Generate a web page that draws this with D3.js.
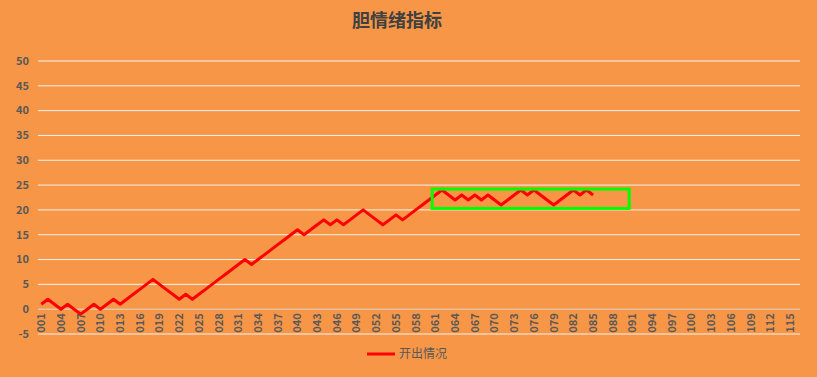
<!DOCTYPE html>
<html>
<head>
<meta charset="utf-8">
<script src="https://cdn.jsdelivr.net/npm/d3@7"></script>
<style>
  body { margin: 0; background: #F79646; }
  svg { display: block; }
  text { font-family: "Noto Sans CJK SC", "Open Sans", sans-serif; }
</style>
</head>
<body>
<svg></svg>
<script>
// category labels 001..116
var categories = d3.range(1, 117).map(d => String(d).padStart(3, '0'));
// 开出情况 series, 001..085
var values = [
  1, 2, 1, 0, 1, 0, -1, 0, 1, 0,
  1, 2, 1, 2, 3, 4, 5, 6, 5, 4,
  3, 2, 3, 2, 3, 4, 5, 6, 7, 8,
  9, 10, 9, 10, 11, 12, 13, 14, 15, 16,
  15, 16, 17, 18, 17, 18, 17, 18, 19, 20,
  19, 18, 17, 18, 19, 18, 19, 20, 21, 22,
  23, 24, 23, 22, 23, 22, 23, 22, 23, 22,
  21, 22, 23, 24, 23, 24, 23, 22, 21, 22,
  23, 24, 23, 24, 23
];
var yTicks = [-5, 0, 5, 10, 15, 20, 25, 30, 35, 40, 45, 50];
var seriesName = '开出情况';
var chartTitle = '胆情绪指标';
// highlighted box: category span and value span
var boxCats = ['061', '090'];
var boxVals = [20.3, 24.2];

var W = 817, H = 377;
var margins = {top: 61, bottom: 43, left: 38, right: 17};

var svg = d3.select('svg').attr('width', W).attr('height', H);

var xScale = d3.scaleBand().domain(categories).range([margins.left, W - margins.right]);
var yScale = d3.scaleLinear().domain([-5, 50]).range([H - margins.bottom, margins.top]);
var bw = xScale.bandwidth();

svg.append('text')
  .attr('x', 397)
  .attr('y', 27)
  .attr('text-anchor', 'middle')
  .style('font-size', '18px')
  .style('font-weight', 'bold')
  .style('fill', '#404040')
  .text(chartTitle);

// grid lines
svg.append('g')
  .selectAll('line')
  .data(yTicks)
  .enter()
  .append('line')
  .attr('x1', margins.left)
  .attr('x2', W - margins.right)
  .attr('y1', d => yScale(d))
  .attr('y2', d => yScale(d))
  .style('stroke', d => d === 0 ? '#D9D9D9' : '#F2F2F2')
  .style('stroke-width', '1px');

// y labels
svg.append('g')
  .selectAll('text')
  .data(yTicks)
  .enter()
  .append('text')
  .attr('x', 29)
  .attr('y', d => yScale(d))
  .attr('dy', '0.35em')
  .attr('text-anchor', 'end')
  .style('font-size', '11px')
  .style('font-weight', 'bold')
  .style('fill', '#595959')
  .text(d => d);

// x labels, every third category
svg.append('g')
  .selectAll('text')
  .data(categories.filter((d, i) => i % 3 === 0))
  .enter()
  .append('text')
  .attr('transform', d => `translate(${xScale(d) + bw / 2}, ${yScale(0) + 4}) rotate(-90)`)
  .attr('dy', '0.35em')
  .attr('text-anchor', 'end')
  .style('font-size', '11px')
  .style('font-weight', 'bold')
  .style('fill', '#595959')
  .text(d => d);

// series line
var line = d3.line()
  .x((d, i) => xScale(categories[i]) + bw / 2)
  .y(d => yScale(d));

svg.append('path')
  .datum(values)
  .attr('d', line)
  .style('fill', 'none')
  .style('stroke', '#FF0000')
  .style('stroke-width', '3px')
  .style('stroke-linejoin', 'round');

// green box
svg.append('rect')
  .attr('x', xScale(boxCats[0]))
  .attr('y', yScale(boxVals[1]))
  .attr('width', xScale(boxCats[1]) + bw - xScale(boxCats[0]))
  .attr('height', yScale(boxVals[0]) - yScale(boxVals[1]))
  .style('fill', 'none')
  .style('stroke', '#00FF00')
  .style('stroke-width', '3px');

// legend
var legend = svg.append('g').attr('transform', 'translate(367, 354)');
legend.append('line')
  .attr('x1', 0)
  .attr('x2', 28)
  .style('stroke', '#FF0000')
  .style('stroke-width', '3px');
legend.append('text')
  .attr('x', 32)
  .attr('dy', '0.35em')
  .style('font-size', '12px')
  .style('fill', '#595959')
  .text(seriesName);
</script>
</body>
</html>
